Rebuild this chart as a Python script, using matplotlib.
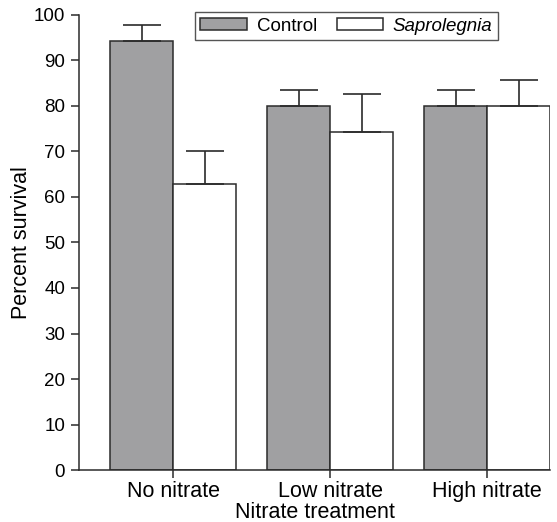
import numpy as np
import matplotlib
matplotlib.use("Agg")
import matplotlib.pyplot as plt

plt.rcParams['font.family'] = ['Liberation Sans', 'DejaVu Sans']

# data
treatments = ['No nitrate', 'Low nitrate', 'High nitrate']
control = [94.3, 80.0, 80.0]
control_err = [3.5, 3.5, 3.5]
saprolegnia = [62.9, 74.3, 80.0]
saprolegnia_err = [7.2, 8.3, 5.7]

width = 0.4
x = np.arange(len(treatments))

fig = plt.figure(figsize=(5.57, 5.22), dpi=100)
ax = fig.add_axes([0.142, 0.0996, 0.8455, 0.8717])

edge = '#2b2b2b'
err_kw = dict(ecolor=edge, elinewidth=1.2, capsize=14, capthick=1.2)

ax.bar(x - width / 2, control, width, color='#a0a0a2', edgecolor=edge,
       linewidth=1.1, label='Control',
       yerr=[np.zeros(3), control_err], error_kw=err_kw, zorder=2)
ax.bar(x + width / 2, saprolegnia, width, color='white', edgecolor=edge,
       linewidth=1.1, label='Saprolegnia',
       yerr=[np.zeros(3), saprolegnia_err], error_kw=err_kw, zorder=2)

ax.set_xlim(-0.6, 2.4)
ax.set_ylim(0, 100)
ax.set_yticks(np.arange(0, 101, 10))
ax.set_xticks(x)
ax.set_xticklabels(treatments)
ax.tick_params(axis='both', length=6, width=1.1, color=edge, direction='out')
ax.tick_params(axis='y', labelsize=13.5, pad=4)
ax.tick_params(axis='x', labelsize=15.5, pad=2)

for side in ['top', 'right']:
    ax.spines[side].set_visible(False)
for side in ['left', 'bottom']:
    ax.spines[side].set_linewidth(1.1)
    ax.spines[side].set_color(edge)

ax.set_ylabel('Percent survival', fontsize=15.5, labelpad=1)
ax.set_xlabel('Nitrate treatment', fontsize=15.5, labelpad=0)

leg = ax.legend(loc='upper right', bbox_to_anchor=(498 / 557, 1 - 12 / 522),
                bbox_transform=fig.transFigure, ncol=2, frameon=True,
                fancybox=False, fontsize=13.5, handlelength=2.5,
                handleheight=0.6, columnspacing=1.05, handletextpad=0.5,
                borderpad=0.3, borderaxespad=0)
leg.get_frame().set_edgecolor(edge)
leg.get_frame().set_linewidth(1.0)
leg.get_texts()[1].set_fontstyle('italic')

fig.savefig('out.png', dpi=100)
